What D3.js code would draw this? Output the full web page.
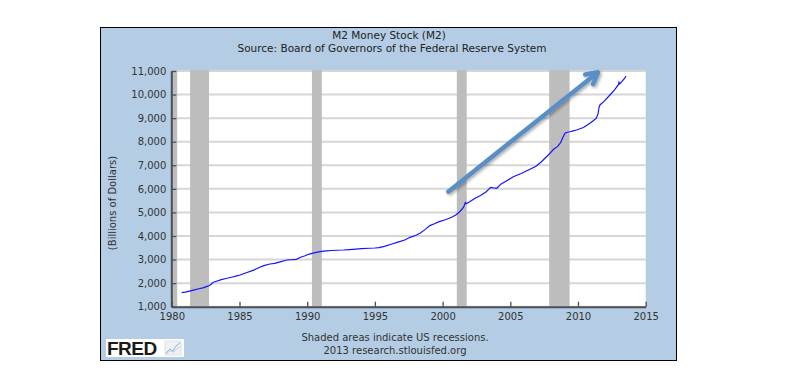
<!DOCTYPE html>
<html><head><meta charset="utf-8">
<script src="https://cdn.jsdelivr.net/npm/d3@7"></script>
<style>
html,body{margin:0;padding:0;background:#fff;}
svg{display:block;font-family:"DejaVu Sans",Verdana,sans-serif;}
</style></head>
<body>
<svg id="chart" width="800" height="380"></svg>
<script>
// ---- data ----
const title = "M2 Money Stock (M2)";
const subtitle = "Source: Board of Governors of the Federal Reserve System";
const yLabel = "(Billions of Dollars)";
const footer1 = "Shaded areas indicate US recessions.";
const footer2 = "2013 research.stlouisfed.org";
const xTicks = [1980, 1985, 1990, 1995, 2000, 2005, 2010, 2015];
const yTicks = [1000, 2000, 3000, 4000, 5000, 6000, 7000, 8000, 9000, 10000, 11000];
const recessionStart = [1980.0, 1981.35, 1990.35, 2001.05, 2007.87];
const recessionEnd   = [1980.4, 1982.75, 1991.08, 2001.78, 2009.38];
const years = [1980.73,1981.0,1981.3,1981.6,1982.0,1982.3,1982.6,1982.75,1982.9,1983.07,1983.3,1983.6,1984.0,1984.4,1984.8,1985.04,
  1985.5,1986.0,1986.5,1986.8,1987.25,1987.6,1988.0,1988.5,1988.9,1989.2,1989.5,1989.8,1990.1,1990.5,1990.95,1991.4,1991.8,
  1992.2,1992.67,1993.1,1993.6,1994.0,1994.6,1995.0,1995.3,1995.7,1996.2,1996.7,1997.2,1997.6,1998.0,1998.33,1998.7,1999.06,
  1999.4,1999.7,2000.2,2000.67,2001.0,2001.3,2001.55,2001.68,2001.75,2002.0,2002.4,2002.8,2003.2,2003.55,2003.75,2004.0,
  2004.3,2004.7,2005.22,2005.8,2006.45,2006.9,2007.3,2007.8,2007.93,2008.2,2008.5,2008.67,2008.75,2008.85,2009.04,2009.2,
  2009.4,2009.65,2009.9,2010.4,2010.88,2011.1,2011.35,2011.48,2011.55,2011.62,2011.9,2012.36,2012.7,2012.97,2013.03,
  2013.08,2013.25,2013.45,2013.54];
const m2 = [1594,1615,1660,1705,1760,1800,1860,1891,1950,2035,2080,2140,2195,2250,2310,2345,
  2440,2540,2672,2740,2812,2840,2900,2981,2995,3010,3096,3150,3223,3280,3334,3370,3385,
  3395,3405,3420,3440,3460,3480,3490,3503,3560,3650,3740,3830,3944,4020,4114,4270,4440,
  4520,4600,4690,4793,4900,5050,5220,5420,5370,5450,5600,5720,5870,6066,6040,6024,
  6200,6330,6516,6650,6830,6960,7150,7437,7508,7680,7800,7932,8000,8150,8356,8400,
  8424,8460,8496,8600,8780,8880,9000,9180,9450,9560,9700,9983,10200,10408,10520,
  10450,10560,10700,10788];
const arrowFrom = [2000.42, 5880];
const arrowTo = [2011.48, 10945];

// ---- layout ----
const svg = d3.select("#chart");
const panel = {x: 100.5, y: 27.5, w: 576, h: 333};
const plot = {l: 171.8, r: 645.7, t: 71, b: 306.7};

svg.append("rect").attr("x", panel.x).attr("y", panel.y).attr("width", panel.w).attr("height", panel.h)
  .attr("fill", "#b4cde4").attr("stroke", "#000").attr("stroke-width", 1);

const x = d3.scaleLinear().domain([1980, 2015]).range([plot.l, plot.r]);
const y = d3.scaleLinear().domain([1000, 11000]).range([plot.b, plot.t]);

svg.append("rect").attr("x", plot.l).attr("y", plot.t).attr("width", plot.r - plot.l).attr("height", plot.b - plot.t)
  .attr("fill", "#fff");

// gridlines
svg.append("g").selectAll("line").data(yTicks).join("line")
  .attr("x1", plot.l).attr("x2", plot.r).attr("y1", d => y(d)).attr("y2", d => y(d))
  .attr("stroke", "#d6d6d6").attr("stroke-width", 2);

// recessions
svg.append("g").selectAll("rect").data(recessionStart).join("rect")
  .attr("x", d => x(d)).attr("width", (d, i) => x(recessionEnd[i]) - x(d))
  .attr("y", plot.t - 1).attr("height", plot.b - plot.t + 1)
  .attr("fill", "#bdbdbd");

// axes
const yAxis = d3.axisLeft(y).tickValues(yTicks).tickFormat(d3.format(",")).tickSizeInner(-5).tickSizeOuter(0).tickPadding(5);
const gy = svg.append("g").attr("transform", `translate(${plot.l - 0.5},0)`).call(yAxis);
const xAxis = d3.axisBottom(x).tickValues(xTicks).tickFormat(d3.format("d")).tickSizeInner(-5).tickSizeOuter(0).tickPadding(6);
const gx = svg.append("g").attr("transform", `translate(0,${plot.b})`).call(xAxis);
[gx, gy].forEach(g => {
  g.select(".domain").attr("stroke", "#4a4f55").attr("stroke-width", 2);
  g.selectAll(".tick line").attr("stroke", "#4a4f55").attr("stroke-width", 1.3);
  g.selectAll(".tick text").attr("fill", "#333").attr("font-size", 10).attr("font-family", "DejaVu Sans, Verdana, sans-serif");
});

// series
const pts = years.map((yr, i) => [yr, m2[i]]);
svg.append("path").datum(pts)
  .attr("d", d3.line().x(d => x(d[0])).y(d => y(d[1])))
  .attr("fill", "none").attr("stroke", "#1414ff").attr("stroke-width", 1.2);

// arrow annotation
const defs = svg.append("defs");
const f = defs.append("filter").attr("id", "sh").attr("x", "-20%").attr("y", "-20%").attr("width", "140%").attr("height", "140%");
f.append("feDropShadow").attr("dx", 1.5).attr("dy", 1.5).attr("stdDeviation", 1.5).attr("flood-color", "#000").attr("flood-opacity", 0.35);
const ax0 = x(arrowFrom[0]), ay0 = y(arrowFrom[1]), ax1 = x(arrowTo[0]), ay1 = y(arrowTo[1]);
const ang = Math.atan2(ay1 - ay0, ax1 - ax0);
const hl = 13, ha = 0.5;
const ag = svg.append("g").attr("filter", "url(#sh)").attr("stroke", "#5a8fc6").attr("stroke-width", 4.5)
  .attr("stroke-linecap", "round").attr("stroke-linejoin", "round").attr("fill", "none");
ag.append("line").attr("x1", ax0).attr("y1", ay0).attr("x2", ax1 - 2 * Math.cos(ang)).attr("y2", ay1 - 2 * Math.sin(ang));
ag.append("path").attr("d", d3.line()([
  [ax1 - hl * Math.cos(ang - ha), ay1 - hl * Math.sin(ang - ha)],
  [ax1, ay1],
  [ax1 - hl * Math.cos(ang + ha), ay1 - hl * Math.sin(ang + ha)]
]));

// texts
svg.append("text").attr("x", 389).attr("y", 39).attr("text-anchor", "middle").attr("font-size", 10.5).attr("fill", "#222").text(title);
svg.append("text").attr("x", 392).attr("y", 51.5).attr("text-anchor", "middle").attr("font-size", 10.5).attr("fill", "#222").text(subtitle);
svg.append("text").attr("transform", `translate(115.5,203) rotate(-90)`).attr("text-anchor", "middle")
  .attr("font-size", 10).attr("fill", "#333").text(yLabel);
svg.append("text").attr("x", 395).attr("y", 341).attr("text-anchor", "middle").attr("font-size", 10).attr("fill", "#333").text(footer1);
svg.append("text").attr("x", 395).attr("y", 354).attr("text-anchor", "middle").attr("font-size", 10).attr("fill", "#333").text(footer2);

// FRED logo
const lg = svg.append("g");
lg.append("rect").attr("x", 106).attr("y", 339).attr("width", 78).attr("height", 18).attr("fill", "#fff");
lg.append("text").attr("x", 107).attr("y", 355).attr("font-family", "Liberation Sans, Arial, sans-serif").attr("font-weight", "bold")
  .attr("font-size", 19).attr("fill", "#1a1a1a").attr("letter-spacing", -0.5).text("FRED");
lg.append("rect").attr("x", 165).attr("y", 341).attr("width", 16).attr("height", 14).attr("fill", "#eef2f6").attr("stroke", "#c9d3dd").attr("stroke-width", 0.6);
lg.append("path").attr("d", "M166,353 L170,349 L173,351 L176,346 L180,343").attr("fill", "none").attr("stroke", "#8fb0d0").attr("stroke-width", 1);
lg.append("path").attr("d", "M166,354 L170,351 L174,352 L177,349 L180,347").attr("fill", "none").attr("stroke", "#b8c6d4").attr("stroke-width", 0.8);
</script>
</body></html>
